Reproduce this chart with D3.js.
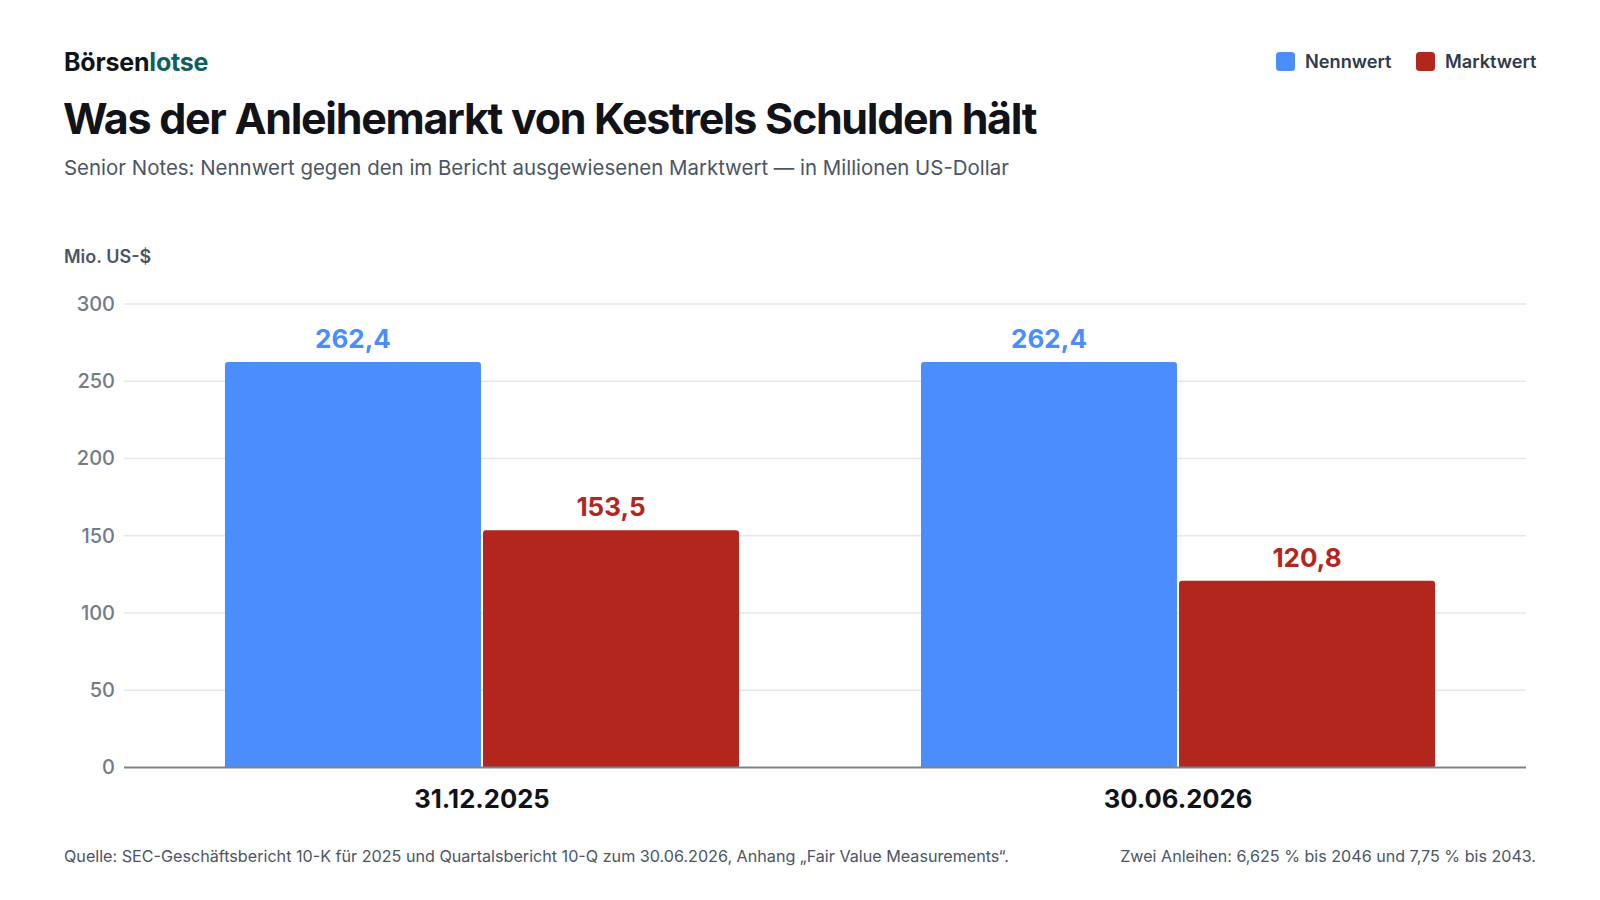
<!DOCTYPE html>
<html><head><meta charset="utf-8">
<script src="https://cdn.jsdelivr.net/npm/d3@7"></script>
<style>
html,body{margin:0;padding:0;background:#fff;}
svg{display:block;font-family:Inter,"Noto Sans",sans-serif;}
</style></head>
<body>
<svg id="chart" width="1600" height="900"></svg>
<script>
const categories = ["31.12.2025", "30.06.2026"];
const seriesNames = ["Nennwert", "Marktwert"];
const nennwert = [262.4, 262.4];
const marktwert = [153.5, 120.8];
const yTicks = [0, 50, 100, 150, 200, 250, 300];
const seriesColors = ["#4b8dfc", "#b3261e"];

const seriesValues = [nennwert, marktwert];
const rows = categories.map((c, i) => ({cat: c, vals: seriesNames.map((s, j) => ({s, j, v: seriesValues[j][i]}))}));

const svg = d3.select("#chart");
const de = d3.formatLocale({decimal: ",", thousands: ".", grouping: [3], currency: ["", " $"]});
const fmt = de.format(".1f");

const y = d3.scaleLinear().domain([0, 300]).range([767.5, 304]);
const x0 = d3.scaleBand().domain(categories).range([134, 1526]).paddingInner(0.2615).paddingOuter(0.1307);
const x1 = d3.scaleBand().domain(seriesNames).range([0, x0.bandwidth()]).paddingInner(0.0078);
const color = d3.scaleOrdinal().domain(seriesNames).range(seriesColors);

// Header
const logo = svg.append("text").attr("x", 64).attr("y", 70.5)
  .attr("font-size", 25).attr("font-weight", 700).attr("letter-spacing", "-0.2");
logo.append("tspan").attr("fill", "#111318").text("Börsen");
logo.append("tspan").attr("fill", "#0f5f5c").text("lotse");

svg.append("text").attr("x", 63).attr("y", 134)
  .attr("font-size", 43).attr("font-weight", 700).attr("letter-spacing", "-1.3")
  .attr("fill", "#111318").text("Was der Anleihemarkt von Kestrels Schulden hält");

svg.append("text").attr("x", 64).attr("y", 175)
  .attr("font-size", 20.45).attr("font-weight", 400).attr("fill", "#4b5563")
  .text("Senior Notes: Nennwert gegen den im Bericht ausgewiesenen Marktwert — in Millionen US-Dollar");

// Legend
const legendX = [1276, 1416];
const lg = svg.append("g").selectAll("g").data(seriesNames).join("g")
  .attr("transform", (d, i) => `translate(${legendX[i]},52)`);
lg.append("rect").attr("width", 19).attr("height", 19).attr("rx", 3.5).attr("fill", d => color(d));
lg.append("text").attr("x", 29).attr("y", 15.5).attr("font-size", 18.2).attr("font-weight", 600)
  .attr("fill", "#2f3b4c").text(d => d);

// Axis label
svg.append("text").attr("x", 64).attr("y", 263).attr("font-size", 18).attr("font-weight", 600)
  .attr("fill", "#4b5563").text("Mio. US-$");

// Grid
svg.append("g").selectAll("line").data(yTicks.filter(t => t > 0)).join("line")
  .attr("x1", 124).attr("x2", 1526).attr("y1", d => y(d)).attr("y2", d => y(d))
  .attr("stroke", "#e6e7ea").attr("stroke-width", 1.5);

// Y axis via d3.axisLeft
const yAxis = svg.append("g").attr("transform", "translate(124,0)")
  .call(d3.axisLeft(y).tickValues(yTicks).tickSize(0).tickPadding(9).tickFormat(d3.format("d")));
yAxis.select(".domain").remove();
yAxis.selectAll("text").attr("font-family", "Inter, sans-serif").attr("font-size", 20)
  .attr("font-weight", 500).attr("fill", "#737b86");

// Bars
function topRounded(x, yTop, w, h, r) {
  r = Math.min(r, h, w / 2);
  return `M${x},${yTop + h}V${yTop + r}Q${x},${yTop} ${x + r},${yTop}H${x + w - r}Q${x + w},${yTop} ${x + w},${yTop + r}V${yTop + h}Z`;
}
const groups = svg.append("g").selectAll("g").data(rows).join("g")
  .attr("transform", d => `translate(${x0(d.cat)},0)`);
groups.selectAll("path").data(d => d.vals).join("path")
  .attr("d", d => topRounded(x1(d.s), y(d.v), x1.bandwidth(), y(0) - y(d.v), 3))
  .attr("fill", d => color(d.s));
groups.selectAll("text.val").data(d => d.vals).join("text").attr("class", "val")
  .attr("x", d => x1(d.s) + x1.bandwidth() / 2).attr("y", d => y(d.v) - 14)
  .attr("text-anchor", "middle").attr("font-size", 26).attr("font-weight", 700)
  .attr("fill", d => color(d.s)).text(d => fmt(d.v));

// Baseline
svg.append("line").attr("x1", 124).attr("x2", 1526).attr("y1", y(0)).attr("y2", y(0))
  .attr("stroke", "#7b838d").attr("stroke-width", 2);

// X axis labels
const xAxis = svg.append("g").attr("transform", `translate(0,${y(0)})`)
  .call(d3.axisBottom(x0).tickSize(0).tickPadding(22));
xAxis.select(".domain").remove();
xAxis.selectAll("text").attr("font-family", "Inter, sans-serif").attr("font-size", 25.6)
  .attr("font-weight", 700).attr("fill", "#111318").attr("dy", "0.71em");

// Footer
svg.append("text").attr("x", 64).attr("y", 862).attr("font-size", 16.15).attr("fill", "#4b5563")
  .text("Quelle: SEC-Geschäftsbericht 10-K für 2025 und Quartalsbericht 10-Q zum 30.06.2026, Anhang „Fair Value Measurements“.");
svg.append("text").attr("x", 1536).attr("y", 862).attr("text-anchor", "end").attr("font-size", 16.1).attr("fill", "#4b5563")
  .text("Zwei Anleihen: 6,625 % bis 2046 und 7,75 % bis 2043.");
</script>
</body></html>
